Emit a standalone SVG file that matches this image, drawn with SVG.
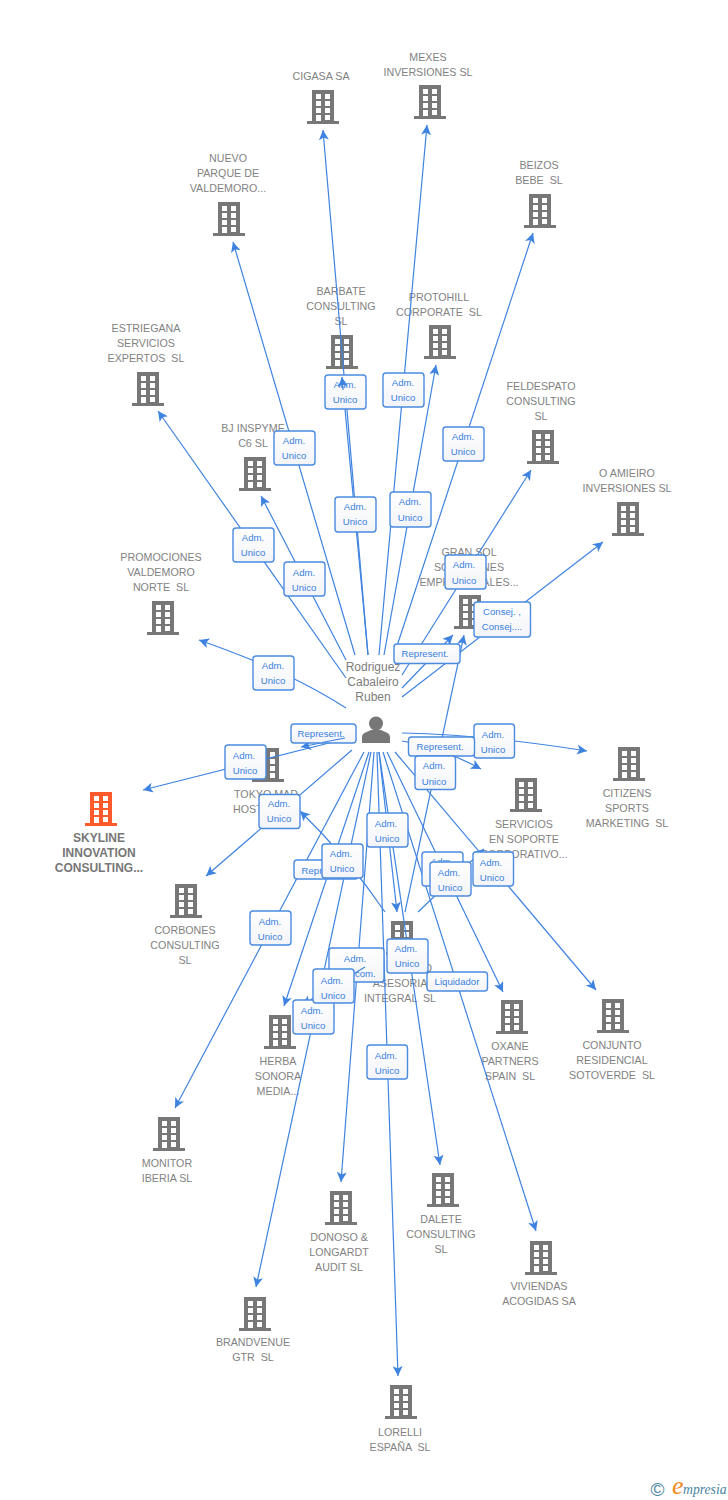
<svg xmlns="http://www.w3.org/2000/svg" width="728" height="1500" viewBox="0 0 728 1500">
<style>
text{font-family:"Liberation Sans",Arial,sans-serif;white-space:pre}
.n{font-size:10.7px;fill:#828282;text-anchor:middle}
.p{font-size:12px;fill:#7d7d7d;text-anchor:middle}
.s{font-size:12px;font-weight:bold;fill:#777;text-anchor:middle}
.c line,.c path{stroke:#3f83e0;stroke-width:1.2;fill:none}
.a{marker-end:url(#arr)}
.b rect{fill:url(#bg);stroke:#4a8be0;stroke-width:1.4}
.b text{font-size:9.6px;fill:#3a80dc;text-anchor:middle}
</style>
<defs>
<linearGradient id="bg" x1="0" y1="0" x2="0" y2="1"><stop offset="0" stop-color="#fff"/><stop offset="1" stop-color="#f3f4f8"/></linearGradient>
<marker id="arr" markerUnits="userSpaceOnUse" markerWidth="11" markerHeight="11" refX="10" refY="5" orient="auto"><path d="M10,5 L0,0 L2.5,5 L0,10 z" fill="#3f83e0"/></marker>
<symbol id="bd" overflow="visible"><path fill-rule="evenodd" d="M-11,-1H11V30H16V33H-16V30H-11Z M-7,3V8H-2V3Z M2,3V8H7V3Z M-7,10V15H-2V10Z M2,10V15H7V10Z M-7,17V22H-2V17Z M2,17V22H7V17Z M-7,24V30H-2V24Z M2,24V29H7V24Z"/></symbol>
</defs>
<rect width="728" height="1500" fill="#fff"/>
<g id="n-cigasa" fill="#777"><use href="#bd" x="323" y="91"/><text class="n" x="321" y="80">CIGASA SA</text></g>
<g id="n-mexes" fill="#777"><use href="#bd" x="430" y="86"/><text class="n" x="428" y="61">MEXES</text><text class="n" x="428" y="76">INVERSIONES SL</text></g>
<g id="n-nuevo" fill="#777"><use href="#bd" x="229" y="203"/><text class="n" x="228" y="162">NUEVO</text><text class="n" x="228" y="177">PARQUE DE</text><text class="n" x="228" y="192">VALDEMORO...</text></g>
<g id="n-beizos" fill="#777"><use href="#bd" x="540" y="195"/><text class="n" x="539" y="169">BEIZOS</text><text class="n" x="539" y="184">BEBE  SL</text></g>
<g id="n-barbate" fill="#777"><use href="#bd" x="342" y="336"/><text class="n" x="341" y="295">BARBATE</text><text class="n" x="341" y="310">CONSULTING</text><text class="n" x="341" y="325">SL</text></g>
<g id="n-protohill" fill="#777"><use href="#bd" x="440" y="326"/><text class="n" x="439" y="301">PROTOHILL</text><text class="n" x="439" y="316">CORPORATE  SL</text></g>
<g id="n-estriegana" fill="#777"><use href="#bd" x="148" y="373"/><text class="n" x="146" y="332">ESTRIEGANA</text><text class="n" x="146" y="347">SERVICIOS</text><text class="n" x="146" y="362">EXPERTOS  SL</text></g>
<g id="n-bj" fill="#777"><use href="#bd" x="255" y="458"/><text class="n" x="253" y="432">BJ INSPYME</text><text class="n" x="253" y="447">C6 SL</text></g>
<g id="n-feldespato" fill="#777"><use href="#bd" x="543" y="431"/><text class="n" x="541" y="390">FELDESPATO</text><text class="n" x="541" y="405">CONSULTING</text><text class="n" x="541" y="420">SL</text></g>
<g id="n-oamieiro" fill="#777"><use href="#bd" x="628" y="503"/><text class="n" x="627" y="477">O AMIEIRO</text><text class="n" x="627" y="492">INVERSIONES SL</text></g>
<g id="n-gransol" fill="#777"><use href="#bd" x="470" y="596"/><text class="n" x="469" y="556">GRAN SOL</text><text class="n" x="469" y="571">SOLUCIONES</text><text class="n" x="469" y="586">EMPRESARIALES...</text></g>
<g id="n-promociones" fill="#777"><use href="#bd" x="163" y="602"/><text class="n" x="161" y="561">PROMOCIONES</text><text class="n" x="161" y="576">VALDEMORO</text><text class="n" x="161" y="591">NORTE  SL</text></g>
<g id="n-tokyo" fill="#777"><use href="#bd" x="268" y="749"/><text class="n" x="266" y="798">TOKYO MAD</text><text class="n" x="233" y="813" style="text-anchor:start">HOST</text></g>
<g id="n-citizens" fill="#777"><use href="#bd" x="629" y="748"/><text class="n" x="627" y="797">CITIZENS</text><text class="n" x="627" y="812">SPORTS</text><text class="n" x="627" y="827">MARKETING  SL</text></g>
<g id="n-servicios" fill="#777"><use href="#bd" x="526" y="779"/><text class="n" x="524" y="828">SERVICIOS</text><text class="n" x="524" y="843">EN SOPORTE</text><text class="n" x="524" y="858">CORPORATIVO...</text></g>
<g id="n-skyline" fill="#ff5a2c"><use href="#bd" x="101" y="793"/><text class="s" x="99" y="842">SKYLINE</text><text class="s" x="99" y="857">INNOVATION</text><text class="s" x="99" y="872">CONSULTING...</text></g>
<g id="n-corbones" fill="#777"><use href="#bd" x="186" y="885"/><text class="n" x="185" y="934">CORBONES</text><text class="n" x="185" y="949">CONSULTING</text><text class="n" x="185" y="964">SL</text></g>
<g id="n-asesoria" fill="#777"><use href="#bd" x="402" y="922"/><text class="n" x="432" y="972" style="text-anchor:end">O</text><text class="n" x="400" y="987">ASESORIA</text><text class="n" x="400" y="1002">INTEGRAL  SL</text></g>
<g id="n-oxane" fill="#777"><use href="#bd" x="512" y="1001"/><text class="n" x="510" y="1050">OXANE</text><text class="n" x="510" y="1065">PARTNERS</text><text class="n" x="510" y="1080">SPAIN  SL</text></g>
<g id="n-conjunto" fill="#777"><use href="#bd" x="613" y="1000"/><text class="n" x="612" y="1049">CONJUNTO</text><text class="n" x="612" y="1064">RESIDENCIAL</text><text class="n" x="612" y="1079">SOTOVERDE  SL</text></g>
<g id="n-herba" fill="#777"><use href="#bd" x="280" y="1016"/><text class="n" x="278" y="1065">HERBA</text><text class="n" x="278" y="1080">SONORA</text><text class="n" x="278" y="1095">MEDIA...</text></g>
<g id="n-monitor" fill="#777"><use href="#bd" x="169" y="1118"/><text class="n" x="167" y="1167">MONITOR</text><text class="n" x="167" y="1182">IBERIA SL</text></g>
<g id="n-donoso" fill="#777"><use href="#bd" x="341" y="1192"/><text class="n" x="339" y="1241">DONOSO &amp;</text><text class="n" x="339" y="1256">LONGARDT</text><text class="n" x="339" y="1271">AUDIT SL</text></g>
<g id="n-dalete" fill="#777"><use href="#bd" x="443" y="1174"/><text class="n" x="441" y="1223">DALETE</text><text class="n" x="441" y="1238">CONSULTING</text><text class="n" x="441" y="1253">SL</text></g>
<g id="n-viviendas" fill="#777"><use href="#bd" x="541" y="1242"/><text class="n" x="539" y="1290">VIVIENDAS</text><text class="n" x="539" y="1305">ACOGIDAS SA</text></g>
<g id="n-brandvenue" fill="#777"><use href="#bd" x="255" y="1298"/><text class="n" x="253" y="1346">BRANDVENUE</text><text class="n" x="253" y="1361">GTR  SL</text></g>
<g id="n-lorelli" fill="#777"><use href="#bd" x="401" y="1386"/><text class="n" x="400" y="1436">LORELLI</text><text class="n" x="400" y="1451">ESPAÑA  SL</text></g>
<g id="n-person"><text class="p" x="373" y="671">Rodriguez</text><text class="p" x="373" y="686">Cabaleiro</text><text class="p" x="373" y="701">Ruben</text><circle cx="376" cy="723.500" r="7" fill="#777"/><path fill="#777" d="M362,743V737C362,733 367,732 371,730H381C385,732 390,733 390,737V743Z"/></g>
<g id="connectors" class="c">
<line class="a" x1="368" y1="655" x2="323" y2="130"/>
<line class="a" x1="379" y1="655" x2="427" y2="125"/>
<line class="a" x1="355" y1="655" x2="233" y2="242"/>
<line class="a" x1="394" y1="655" x2="533" y2="233"/>
<line class="a" x1="368" y1="655" x2="342" y2="377"/>
<line class="a" x1="384" y1="655" x2="436" y2="365"/>
<line class="a" x1="402" y1="675" x2="531" y2="470"/>
<line class="a" x1="402" y1="688" x2="453" y2="635"/>
<line class="a" x1="402" y1="697" x2="603" y2="542"/>
<line class="a" x1="346" y1="678" x2="158" y2="411"/>
<line class="a" x1="346" y1="660" x2="261" y2="496"/>
<path class="a" d="M346,708C310,685 270,665 199,640"/>
<line class="a" x1="345" y1="738" x2="301" y2="747"/>
<line class="a" x1="345" y1="739" x2="143" y2="790"/>
<line class="a" x1="352" y1="750" x2="206" y2="876"/>
<path class="a" d="M402,733C470,734 530,742 587,751"/>
<path class="a" d="M402,741C430,745 455,755 481,769"/>
<path class="a" d="M385,912C370,890 340,850 300,811"/>
<line class="a" x1="418" y1="912" x2="484" y2="849"/>
<line class="a" x1="395" y1="752" x2="596" y2="990"/>
<line class="a" x1="387" y1="752" x2="503" y2="992"/>
<line class="a" x1="383" y1="752" x2="536" y2="1231"/>
<line class="a" x1="379" y1="752" x2="440" y2="1165"/>
<line class="a" x1="377" y1="752" x2="398" y2="1376"/>
<line class="a" x1="374" y1="752" x2="341" y2="1182"/>
<line class="a" x1="371" y1="752" x2="256" y2="1287"/>
<line class="a" x1="369" y1="752" x2="284" y2="1006"/>
<line class="a" x1="364" y1="752" x2="175" y2="1108"/>
<line class="a" x1="379" y1="752" x2="397" y2="912"/>
<line class="a" x1="405" y1="912" x2="464" y2="635"/>
</g>
<g class="b">
<g id="l1"><rect x="325" y="375" width="41" height="34" rx="3"/><text x="345" y="388">Adm.</text><text x="345" y="403">Unico</text></g>
<g id="l2"><rect x="383" y="373" width="41" height="34" rx="3"/><text x="403" y="386">Adm.</text><text x="403" y="401">Unico</text></g>
<g id="l3"><rect x="274" y="431" width="41" height="34" rx="3"/><text x="294" y="444">Adm.</text><text x="294" y="459">Unico</text></g>
<g id="l4"><rect x="443" y="427" width="41" height="34" rx="3"/><text x="463" y="440">Adm.</text><text x="463" y="455">Unico</text></g>
<g id="l5"><rect x="335" y="497" width="41" height="35" rx="3"/><text x="355" y="510">Adm.</text><text x="355" y="525">Unico</text></g>
<g id="l6"><rect x="390" y="492" width="41" height="35" rx="3"/><text x="410" y="505">Adm.</text><text x="410" y="521">Unico</text></g>
<g id="l7"><rect x="233" y="528" width="41" height="34" rx="3"/><text x="253" y="541">Adm.</text><text x="253" y="556">Unico</text></g>
<g id="l8"><rect x="284" y="562" width="41" height="34" rx="3"/><text x="304" y="576">Adm.</text><text x="304" y="591">Unico</text></g>
<g id="l9"><rect x="445" y="555" width="41" height="34" rx="3"/><text x="464" y="568">Adm.</text><text x="464" y="584">Unico</text></g>
<g id="l10"><rect x="474" y="602" width="56.500" height="35" rx="3"/><text x="502" y="615">Consej. ,</text><text x="502" y="630">Consej....</text></g>
<g id="l11"><rect x="394" y="644" width="66" height="19.500" rx="3"/><text x="425" y="657">Represent.</text></g>
<g id="l12"><rect x="253" y="656" width="41" height="34" rx="3"/><text x="273" y="669">Adm.</text><text x="273" y="684">Unico</text></g>
<g id="l13"><rect x="291" y="724" width="65" height="19" rx="3"/><text x="321" y="737">Represent.</text></g>
<g id="l14"><rect x="474" y="724" width="40.500" height="34" rx="3"/><text x="493" y="738">Adm.</text><text x="493" y="753">Unico</text></g>
<g id="l15"><rect x="408.500" y="737" width="66" height="19" rx="3"/><text x="440" y="750">Represent.</text></g>
<g id="l16"><rect x="225" y="745" width="41" height="34" rx="3"/><text x="244" y="759">Adm.</text><text x="245" y="774">Unico</text></g>
<g id="l17"><rect x="415" y="756" width="40.500" height="33.500" rx="3"/><text x="434" y="769">Adm.</text><text x="434" y="785">Unico</text></g>
<g id="l18"><rect x="259" y="794.500" width="41" height="34" rx="3"/><text x="279" y="807">Adm.</text><text x="279" y="822">Unico</text></g>
<g id="l19"><rect x="367" y="813" width="41" height="34" rx="3"/><text x="386" y="827">Adm.</text><text x="387" y="842">Unico</text></g>
<g id="l20"><rect x="294" y="860" width="64" height="19" rx="3"/><text x="325" y="873.500">Represent.</text></g>
<g id="l21"><rect x="322" y="844" width="41" height="34" rx="3"/><text x="341" y="857">Adm.</text><text x="342" y="872">Unico</text></g>
<g id="l22"><rect x="422" y="852" width="41" height="34" rx="3"/><text x="442" y="865">Adm.</text><text x="442" y="880">Unico</text></g>
<g id="l23"><rect x="430" y="862" width="41" height="34" rx="3"/><text x="449" y="876">Adm.</text><text x="450" y="891">Unico</text></g>
<g id="l24"><rect x="473" y="852" width="40.500" height="34" rx="3"/><text x="491" y="866">Adm.</text><text x="492" y="881">Unico</text></g>
<g id="l25"><rect x="250" y="911" width="41" height="34" rx="3"/><text x="270" y="925">Adm.</text><text x="270" y="940">Unico</text></g>
<g id="l26"><rect x="329" y="948" width="55" height="34" rx="3"/><text x="355" y="962">Adm.</text><text x="356" y="977">Mancom.</text></g>
</g>
<g class="c"><line class="a" x1="365" y1="967" x2="302" y2="1005"/><line x1="345" y1="738" x2="322" y2="742.500"/><line class="a" x1="343" y1="390" x2="342" y2="377"/></g>
<g class="b">
<g id="l27"><rect x="387" y="939" width="41" height="34" rx="3"/><text x="406" y="952">Adm.</text><text x="407" y="967">Unico</text></g>
<g id="l28"><rect x="427" y="972" width="60.500" height="19" rx="3"/><text x="457" y="985">Liquidador</text></g>
<g id="l29"><rect x="293" y="1000" width="41" height="34" rx="3"/><text x="312" y="1014">Adm.</text><text x="313" y="1029">Unico</text></g>
<g id="l30"><rect x="313" y="969" width="41" height="34" rx="3"/><text x="332" y="984">Adm.</text><text x="333" y="999">Unico</text></g>
<g id="l31"><rect x="367" y="1045" width="40.500" height="34" rx="3"/><text x="386" y="1059">Adm.</text><text x="387" y="1074">Unico</text></g>
</g>
<g id="logo"><text x="657.500" y="1495.500" font-size="19" fill="#4a86a0" text-anchor="middle">©</text><text x="672" y="1494" style="font-family:'Liberation Serif',serif;font-style:italic" font-size="26" fill="#f08a1e">e</text><text x="683" y="1494" style="font-family:'Liberation Serif',serif;font-style:italic" font-size="13.700" fill="#4a86a0">mpresia</text></g>
</svg>
